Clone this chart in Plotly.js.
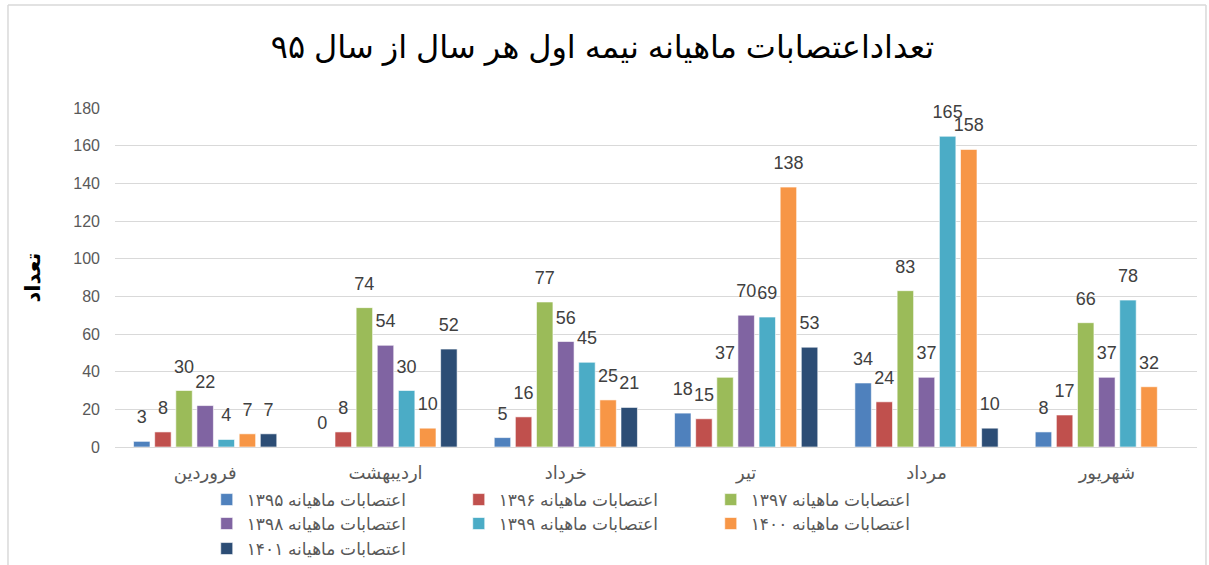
<!DOCTYPE html>
<html><head><meta charset="utf-8">
<script src="https://cdn.plot.ly/plotly-3.0.1.min.js"></script>
<style>html,body{margin:0;padding:0;background:#fff;}#chart{width:1209px;height:565px;}</style>
</head><body><div id="chart"></div>
<script>
const months = ["فروردین", "اردیبهشت", "خرداد", "تیر", "مرداد", "شهریور"];
const seriesNames = ["اعتصابات ماهیانه ۱۳۹۵", "اعتصابات ماهیانه ۱۳۹۶", "اعتصابات ماهیانه ۱۳۹۷",
  "اعتصابات ماهیانه ۱۳۹۸", "اعتصابات ماهیانه ۱۳۹۹", "اعتصابات ماهیانه ۱۴۰۰", "اعتصابات ماهیانه ۱۴۰۱"];
const s1395 = [3, 0, 5, 18, 34, 8];
const s1396 = [8, 8, 16, 15, 24, 17];
const s1397 = [30, 74, 77, 37, 83, 66];
const s1398 = [22, 54, 56, 70, 37, 37];
const s1399 = [4, 30, 45, 69, 165, 78];
const s1400 = [7, 10, 25, 138, 158, 32];
const s1401 = [7, 52, 21, 53, 10, null];
const seriesValues = [s1395, s1396, s1397, s1398, s1399, s1400, s1401];
const colors = ["#4F81BD", "#C0504D", "#9BBB59", "#8064A2", "#4BACC6", "#F79646", "#2C4D75"];
const legendIds = ["legend", "legend", "legend", "legend2", "legend2", "legend2", "legend3"];

const FONT = "Liberation Sans, DejaVu Sans, sans-serif";
const traces = seriesValues.map((vals, i) => ({
  type: "bar",
  name: seriesNames[i],
  x: months,
  y: vals,
  marker: {color: colors[i], line: {color: "rgba(255,255,255,0.6)", width: 1}},
  text: vals.map(v => v === null ? "" : "<span style='font-size:18px'>" + v + "</span><br>\u00a0"),
  textposition: "outside",
  constraintext: "none",
  textfont: {family: FONT, size: 10, color: "#404040"},
  cliponaxis: false,
  legend: legendIds[i],
  hoverinfo: "x+y+name"
}));

function legendCfg(y) {
  return {
    orientation: "h", xref: "container", x: 0.171, xanchor: "left",
    yref: "container", y: y, yanchor: "middle",
    entrywidth: 207, entrywidthmode: "pixels",
    font: {family: FONT, size: 17, color: "#595959"},
    bgcolor: "rgba(0,0,0,0)", traceorder: "normal"
  };
}

const frameColor = "#d9d9d9";
const layout = {
  width: 1209, height: 565,
  margin: {l: 115, r: 12, t: 108, b: 118},
  paper_bgcolor: "#ffffff", plot_bgcolor: "#ffffff",
  title: {text: "تعداداعتصابات ماهیانه نیمه اول هر سال از سال ۹۵",
    font: {family: FONT, size: 32, color: "#000000"},
    xref: "paper", x: 0.4505, xanchor: "center", yref: "container", y: 0.918, yanchor: "middle"},
  barmode: "group", bargap: 0.18, bargroupgap: 0.22,
  xaxis: {
    type: "category", showgrid: false, showline: true, linecolor: "#d9d9d9", linewidth: 1,
    ticks: "", tickfont: {family: FONT, size: 18, color: "#595959"}, ticklabelstandoff: 9,
    fixedrange: true, automargin: false
  },
  yaxis: {
    range: [0, 180], dtick: 20, showgrid: true, gridcolor: "#d9d9d9", gridwidth: 1,
    zeroline: false, showline: false, ticks: "",
    tickfont: {family: FONT, size: 16, color: "#595959"}, ticklabelstandoff: 14,
    title: {text: "<b>تعداد</b>", font: {family: FONT, size: 21, color: "#000000"}, standoff: 26},
    fixedrange: true, automargin: false
  },
  legend: legendCfg(0.115),
  legend2: legendCfg(0.0726),
  legend3: legendCfg(0.0283),
  showlegend: true,
  shapes: [
    {type: "line", xref: "paper", yref: "paper", x0: -0.0989, x1: -0.0989, y0: 1.3038, y1: -0.36, line: {color: frameColor, width: 1.5}},
    {type: "line", xref: "paper", yref: "paper", x0: -0.0989, x1: 1.0083, y0: 1.3038, y1: 1.3038, line: {color: frameColor, width: 1.5}},
    {type: "line", xref: "paper", yref: "paper", x0: 1.0083, x1: 1.0083, y0: 1.3038, y1: -0.36, line: {color: frameColor, width: 1.5}}
  ]
};
Plotly.newPlot("chart", traces, layout, {displayModeBar: false, staticPlot: true});
</script></body></html>
